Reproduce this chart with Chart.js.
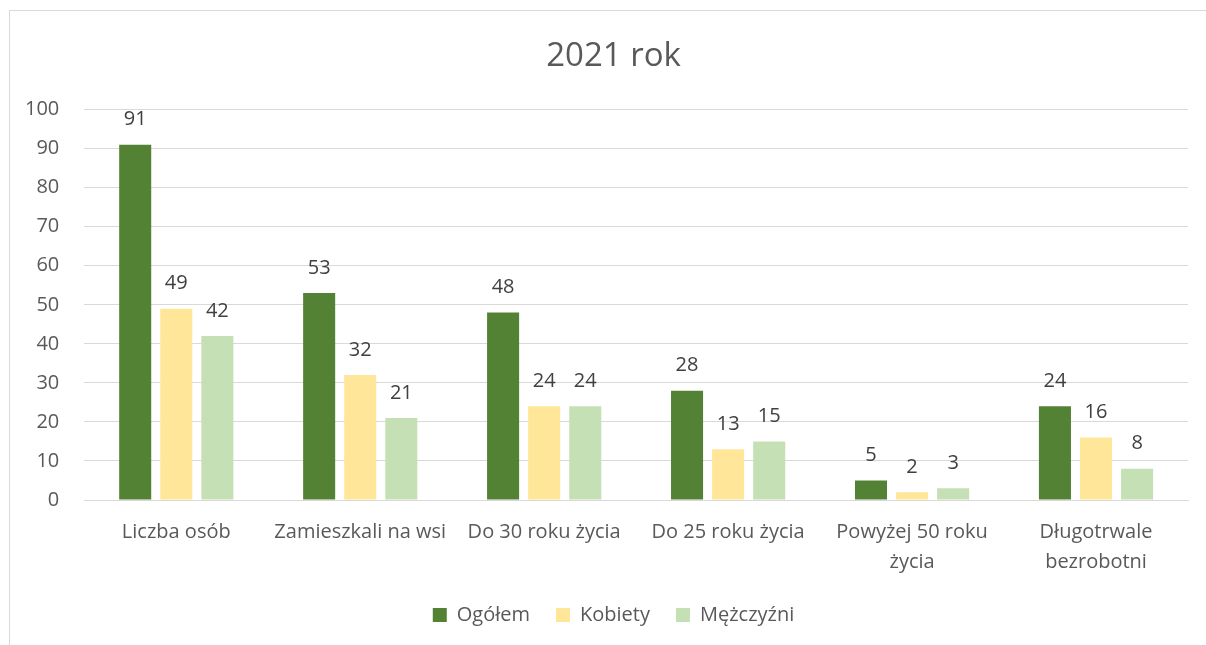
<!DOCTYPE html>
<html><head><meta charset="utf-8">
<script src="https://cdn.jsdelivr.net/npm/chart.js@4.4.0/dist/chart.umd.min.js"></script>
<style>
html,body{margin:0;padding:0;background:#fff;overflow:hidden}
#frame{position:absolute;left:9px;top:10px;width:1300px;height:800px;border:1px solid #d9d9d9;box-sizing:border-box}
#wrap{position:absolute;left:0;top:0;width:1206px;height:645px}
</style></head>
<body>
<div id="frame"></div>
<div id="wrap"><canvas id="c" width="1206" height="645"></canvas></div>
<script>
const categories = ["Liczba osób", "Zamieszkali na wsi", "Do 30 roku życia", "Do 25 roku życia", ["Powyżej 50 roku", "życia"], ["Długotrwale", "bezrobotni"]];
const ogolem = [91, 53, 48, 28, 5, 24];
const kobiety = [49, 32, 24, 13, 2, 16];
const mezczyzni = [42, 21, 24, 15, 3, 8];
const yTicks = [0, 10, 20, 30, 40, 50, 60, 70, 80, 90, 100];

const FONT = "'Open Sans', 'Noto Sans', sans-serif";
const TXT = '#595959';

const valueLabels = {
  id: 'valueLabels',
  afterDatasetsDraw(chart) {
    const ctx = chart.ctx;
    ctx.save();
    ctx.font = '20px ' + FONT;
    ctx.fillStyle = '#404040';
    ctx.textAlign = 'center';
    ctx.textBaseline = 'middle';
    chart.data.datasets.forEach((ds, i) => {
      chart.getDatasetMeta(i).data.forEach((bar, j) => {
        ctx.fillText(String(ds.data[j]), bar.x, bar.y - 25);
      });
    });
    ctx.restore();
  }
};

new Chart(document.getElementById('c'), {
  type: 'bar',
  data: {
    labels: categories,
    datasets: [
      {label: 'Ogółem', data: ogolem, backgroundColor: '#548235'},
      {label: 'Kobiety', data: kobiety, backgroundColor: '#FFE699'},
      {label: 'Mężczyźni', data: mezczyzni, backgroundColor: '#C5E0B4'}
    ]
  },
  options: {
    responsive: false,
    animation: false,
    layout: {padding: {left: 20, right: -1, top: 37, bottom: 10}},
    datasets: {bar: {categoryPercentage: 0.67, barPercentage: 0.78}},
    plugins: {
      title: {display: true, text: '2021 rok', color: TXT, font: {family: FONT, size: 33, weight: 'normal', lineHeight: 1.2}, padding: {top: 0, bottom: 33}},
      legend: {position: 'bottom', labels: {color: TXT, font: {family: FONT, size: 20}, boxWidth: 14, boxHeight: 14, padding: 26}},
      tooltip: {enabled: false}
    },
    scales: {
      x: {
        grid: {display: false, drawTicks: false},
        border: {display: true, color: '#d9d9d9'},
        ticks: {color: TXT, font: {family: FONT, size: 20, lineHeight: 1.5}, padding: 17, maxRotation: 0, autoSkip: false},
        afterFit: (axis) => { axis.height = axis.height - 15; }
      },
      y: {
        min: 0, max: 100,
        afterBuildTicks: (axis) => { axis.ticks = yTicks.map(v => ({value: v})); },
        grid: {color: '#d9d9d9', drawTicks: false},
        border: {display: false},
        ticks: {color: TXT, font: {family: FONT, size: 20}, padding: 25},
        afterFit: (axis) => { axis.width = axis.width - 20; }
      },
      yRight: {
        position: 'right',
        display: true,
        grid: {display: false, drawTicks: false},
        border: {display: false},
        ticks: {display: false},
        afterFit: (axis) => { axis.width = 19; }
      }
    }
  },
  plugins: [valueLabels]
});
</script>
</body></html>
